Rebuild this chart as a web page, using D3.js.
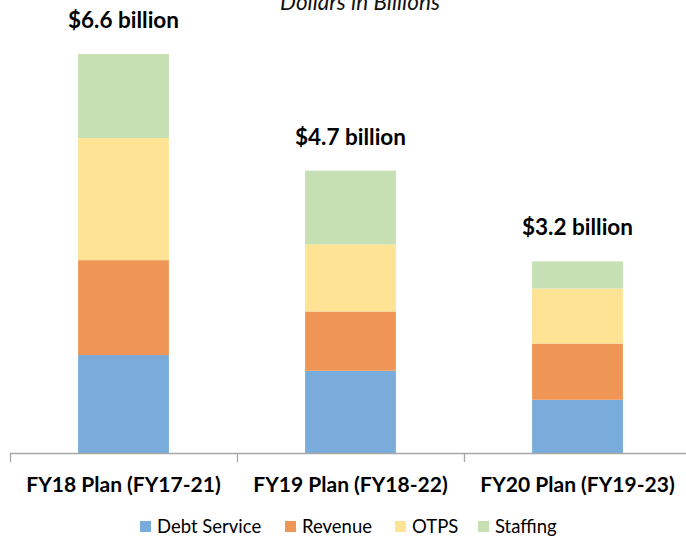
<!DOCTYPE html>
<html lang="en">
<head>
  <meta charset="UTF-8" />
  <title>Plans</title>
  <script src="https://d3js.org/d3.v7.min.js"></script>
  <style>
    body { margin: 0; background: #fff; }
    svg { display: block; font-family: 'Lato', 'Open Sans', sans-serif; }
  </style>
</head>
<body>
  <svg id="chart" width="686" height="536"></svg>
  <script>
    // data (billions)
    const categories = ["FY18 Plan (FY17-21)", "FY19 Plan (FY18-22)", "FY20 Plan (FY19-23)"];
    const debtService = [1.62, 1.36, 0.88];
    const revenue = [1.57, 0.98, 0.93];
    const otps = [2.02, 1.11, 0.91];
    const staffing = [1.39, 1.22, 0.45];
    const totalLabels = ["$6.6 billion", "$4.7 billion", "$3.2 billion"];
    const seriesNames = ["Debt Service", "Revenue", "OTPS", "Staffing"];
    const colors = ["#79abdb", "#ef9555", "#ffe394", "#c6e0b4"];

    const rows = categories.map((c, i) => ({
      cat: c,
      "Debt Service": debtService[i],
      "Revenue": revenue[i],
      "OTPS": otps[i],
      "Staffing": staffing[i]
    }));
    const stacked = d3.stack().keys(seriesNames)(rows);

    const svg = d3.select("#chart");
    const baseY = 453;

    const x = d3.scaleBand().domain(categories).range([10, 691]);
    const y = d3.scaleLinear()
      .domain([0, d3.max(stacked[stacked.length - 1], d => d[1])])
      .range([baseY, 54]);
    const barW = x.bandwidth() * 0.4;
    const color = d3.scaleOrdinal().domain(seriesNames).range(colors);

    // subtitle (sits partly above the top edge, as in the source)
    svg.append("text")
      .attr("x", 360).attr("y", 10)
      .attr("text-anchor", "middle")
      .attr("font-style", "italic")
      .attr("font-size", 22.5)
      .attr("fill", "#111")
      .text("Dollars in Billions");

    // bars
    svg.append("g").selectAll("g")
      .data(stacked)
      .join("g")
      .attr("fill", d => color(d.key))
      .selectAll("rect")
      .data(d => d)
      .join("rect")
      .attr("x", d => x(d.data.cat) + (x.bandwidth() - barW) / 2)
      .attr("width", barW)
      .attr("y", d => y(d[1]))
      .attr("height", d => y(d[0]) - y(d[1]));

    // total labels
    const topLayer = stacked[stacked.length - 1];
    svg.append("g").selectAll("text")
      .data(topLayer)
      .join("text")
      .attr("x", d => x(d.data.cat) + x.bandwidth() / 2)
      .attr("y", d => y(d[1]) - 26)
      .attr("text-anchor", "middle")
      .attr("font-weight", "bold")
      .attr("font-size", 22.5)
      .attr("fill", "#000")
      .text((d, i) => totalLabels[i]);

    // axis
    const axis = svg.append("g").attr("stroke", "#a6a6a6").attr("stroke-width", 1.3);
    axis.append("line")
      .attr("x1", 10).attr("x2", 691)
      .attr("y1", baseY + 0.5).attr("y2", baseY + 0.5);
    axis.selectAll("line.tick")
      .data(categories)
      .join("line")
      .attr("class", "tick")
      .attr("x1", d => Math.round(x(d)) + 0.5).attr("x2", d => Math.round(x(d)) + 0.5)
      .attr("y1", baseY).attr("y2", baseY + 9);

    svg.append("g").selectAll("text")
      .data(categories)
      .join("text")
      .attr("x", d => x(d) + x.bandwidth() / 2)
      .attr("y", 492)
      .attr("text-anchor", "middle")
      .attr("font-weight", "bold")
      .attr("font-size", 21)
      .attr("fill", "#000")
      .text(d => d);

    // legend
    const legendX = [140, 285, 395, 478];
    const leg = svg.append("g").selectAll("g")
      .data(seriesNames)
      .join("g")
      .attr("transform", (d, i) => `translate(${legendX[i]},0)`);
    leg.append("rect")
      .attr("y", 521).attr("width", 11).attr("height", 11)
      .attr("fill", d => color(d));
    leg.append("text")
      .attr("x", 17).attr("y", 533)
      .attr("font-size", 18.5)
      .attr("fill", "#000")
      .text(d => d);
  </script>
</body>
</html>
